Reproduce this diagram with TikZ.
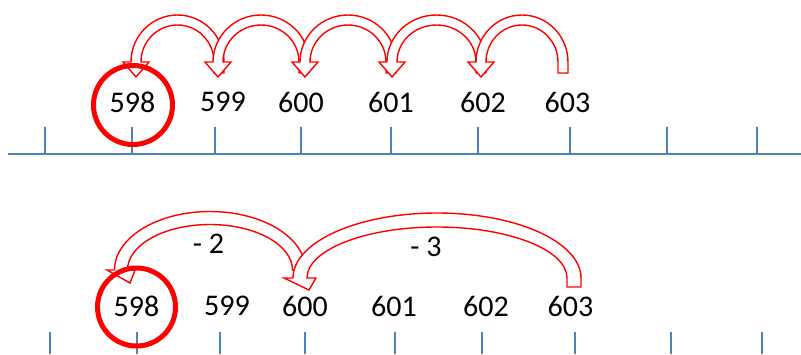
\documentclass[tikz,border=0pt]{standalone}
\usepackage{fontspec}
\setmainfont{Carlito}
\definecolor{axisblue}{RGB}{79,129,189}
\tikzset{
  num/.style={font=\fontsize{30}{32}\selectfont, inner sep=0pt},
  axis/.style={draw=axisblue, line width=2pt},
  ring/.style={draw=red, line width=5pt},
  hop/.style={draw=red, fill=white, line width=1.4pt, line join=miter},
}
% hollow bent arrow: cx, cy, rx, ry, half width, tail drop, head half width, head length, tip shift
\newcommand\hoparrow[9]{%
  \filldraw[hop] ({#1+#3+#5},{#2+#6}) -- ({#1+#3+#5},#2)
    arc[start angle=0, end angle=180, x radius={#3pt+#5pt}, y radius={#4pt+#5pt}]
    -- ({#1-#3-#7},#2) -- ({#1-#3+#9},{#2+#8}) -- ({#1-#3+#7},#2) -- ({#1-#3+#5},#2)
    arc[start angle=180, end angle=0, x radius={#3pt-#5pt}, y radius={#4pt-#5pt}]
    -- ({#1+#3-#5},{#2+#6}) -- cycle;}
\begin{document}
\begin{tikzpicture}[x=1pt,y=-1pt]
  \useasboundingbox (0,0) rectangle (801,354);
  % upper number line
  \draw[axis] (8,154) -- (801,154);
  \foreach \x in {45,132,215,301,391,478,570,667,757}
    \draw[axis] (\x,127) -- (\x,154);
  % lower ticks
  \foreach \x in {50,137,220,305,395,482,575,671,762}
    \draw[axis] (\x,332) -- (\x,354);
  % numbers
  \foreach \n/\x in {598/132.5,599/223,600/301,601/391,602/483,603/567.5}
    \node[num] (t\n) at (\x,102) {\n};
  \foreach \n/\x in {598/136.5,599/227,600/305,601/394,602/486,603/570.5}
    \node[num] (b\n) at (\x,306) {\n};
  % back one at a time
  \hoparrow{177.5}{62}{41.5}{42}{5}{11}{13}{15}{0}
  \hoparrow{261}{62}{43}{42}{5}{11}{13}{15}{0}
  \hoparrow{348}{62}{43}{42}{5}{11}{13}{15}{0}
  \hoparrow{436.5}{62}{44.5}{42}{5}{11}{13}{15}{0}
  \hoparrow{522}{62}{41}{42}{5}{11}{13}{15}{0}
  \draw[ring] ([xshift=0.5pt,yshift=-3pt]t598.center) circle (39.5pt);
  % back in two jumps
  \hoparrow{210}{270}{89}{52}{6.5}{0}{14}{13}{9}
  \hoparrow{437}{278}{137}{58}{7}{9}{16}{12}{9}
  \node[num] (m2) at (208.5,244) {- 2};
  \node[num] (m3) at (426,247) {- 3};
  \draw[ring] ([yshift=-1pt]b598.center) circle (39pt);
\end{tikzpicture}
\end{document}
